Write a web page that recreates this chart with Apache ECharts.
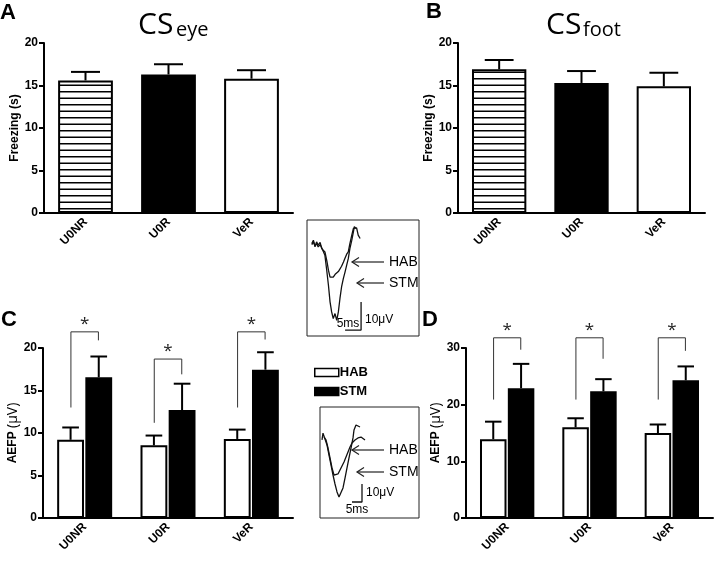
<!DOCTYPE html>
<html><head><meta charset="utf-8">
<script src="https://cdn.jsdelivr.net/npm/echarts@6/dist/echarts.min.js"></script>
<style>html,body{margin:0;padding:0;background:#fff}#c{width:720px;height:563px}</style>
</head><body><div id="c"></div>
<script>
// ---------- data ----------
const categories = ['U0NR', 'U0R', 'VeR'];
const freezeEyeMean = [15.6, 16.3, 15.8];
const freezeEyeSem = [1.0, 1.2, 1.0];
const freezeFootMean = [16.9, 15.3, 14.9];
const freezeFootSem = [1.1, 1.4, 1.6];
const aefpEyeHab = [9.2, 8.55, 9.3];
const aefpEyeHabSem = [1.45, 1.15, 1.1];
const aefpEyeStm = [16.55, 12.7, 17.45];
const aefpEyeStmSem = [2.45, 3.1, 2.05];
const aefpFootHab = [13.9, 16.0, 15.0];
const aefpFootHabSem = [3.1, 1.6, 1.5];
const aefpFootStm = [22.9, 22.35, 24.3];
const aefpFootStmSem = [4.3, 2.15, 2.45];
// significance brackets (left foot, top, right foot), axis units
const sigEyeLeft = [13.0, 11.2, 13.0];
const sigEyeTop = [21.9, 18.7, 21.9];
const sigEyeRight = [20.9, 16.9, 21.0];
const sigFootLeft = [20.9, 20.9, 20.9];
const sigFootTop = [31.8, 31.8, 31.8];
const sigFootRight = [29.7, 28.1, 29.5];
// example traces (ms, µV)
const in1HabMs = [1.5,2.0,2.5,3.0,3.5,4.1,4.6,5.1,5.6,6.2,6.7,7.2,7.7,8.2,8.8,9.3,9.8,10.3,10.8,11.4,11.9,12.4,12.9,13.4,14.0,14.5,15.0,15.5,16.0,16.6];
const in1HabUv = [0,1.2,-1.2,0.6,-0.6,0.4,-1.8,-1.2,-3.0,-6.2,-9.5,-12,-11.4,-12,-11,-11.4,-10,-9.5,-8.1,-6.6,-5.2,-3.8,-3.0,0,3.0,5.4,4.8,5.6,3.0,1.8];
const in1StmMs = [1.5,2,2.5,3,3.5,4.1,4.6,5.1,5.6,6.1,6.7,7.2,7.7,8.2,8.75,9.3,9.8,10.3,10.8,11.35,11.9,12.4,12.9,13.4,14,14.5,14.8,15.3];
const in1StmUv = [-0.4,0.6,-0.8,0,-1.2,-0.4,-1.5,-1.8,-4.2,-8.9,-14.9,-20.8,-24.4,-26.8,-25,-27.4,-24.4,-19.6,-15.5,-12.5,-10.1,-7.7,-5.4,-1.8,1.2,4.2,6.0,5.4];
const in2AMs = [1,1.5,2.5,3.5,4.5,5.5,6.5,7.5,8.5,9.5,10.5,11.5,12.5,13.5,14.5,15.5,16.5,17,18,19,20];
const in2AUv = [0.6,4.4,3.3,-2.2,-7.8,-13.3,-18.9,-23.9,-28.3,-31.1,-30,-26.1,-20.6,-15,-9.4,-3.9,1.7,6.1,8.9,10,7.8];
const in2BMs = [2,3,4,5,6,7,8,9,10,11,12,13,14,15,16,17.5,19,20.5,21.5,22.5];
const in2BUv = [2.2,0.6,-3.9,-9.4,-15,-18.9,-20,-18.3,-16.1,-13.9,-11.7,-8.9,-6.1,-3.3,-1.1,0.6,1.7,2.2,2.8,0.6];
const scale1Ms = [11.9, 16.9, 16.9];
const scale1Uv = [-30.9, -30.9, -20.9];
const scale2Ms = [16, 21, 21];
const scale2Uv = [-33.9, -33.9, -23.9];

// ---------- styling helpers ----------
const stripe = document.createElement('canvas');
stripe.width = 8; stripe.height = 13;
const sg = stripe.getContext('2d');
sg.fillStyle = '#fff'; sg.fillRect(0, 0, 8, 13);
sg.fillStyle = '#000'; sg.fillRect(0, 0, 8, 1.5); sg.fillRect(0, 6.5, 8, 1.5);
const stripeFill = { image: stripe, repeat: 'repeat' };
const singleFills = [stripeFill, '#000', '#fff'];
const FONT = "'Liberation Sans', Arial, sans-serif";
const NARROW = "'Liberation Sans Narrow', 'Liberation Sans', Arial, sans-serif";

function catAxis(gi) {
  return {
    type: 'category', gridIndex: gi, data: categories,
    axisLine: { lineStyle: { color: '#000', width: 2 } },
    axisTick: { alignWithLabel: true, length: 5, lineStyle: { color: '#000', width: 2 } },
    axisLabel: { rotate: 45, interval: 0, color: '#000', fontWeight: 'bold', fontSize: 12, fontFamily: FONT, margin: 7 }
  };
}
function valAxis(gi, max, interval, name, gap) {
  return {
    type: 'value', gridIndex: gi, min: 0, max: max, interval: interval,
    splitLine: { show: false },
    axisLine: { show: true, lineStyle: { color: '#000', width: 2 } },
    axisTick: { show: true, length: 5, lineStyle: { color: '#000', width: 2 } },
    axisLabel: { color: '#000', fontWeight: 'bold', fontSize: 12, fontFamily: FONT, margin: 6 },
    name: name, nameLocation: 'middle', nameRotate: 90, nameGap: gap,
    nameTextStyle: {
      color: '#000', fontWeight: 'bold', fontSize: 12, fontFamily: FONT,
      rich: {
        b: { fontWeight: 'bold', fontSize: 12, fontFamily: FONT, color: '#000' },
        n: { fontWeight: 'normal', fontSize: 14, fontFamily: "'Open Sans', sans-serif", color: '#000' }
      }
    }
  };
}
function hiddenAxis(gi, min, max) {
  return { type: 'value', gridIndex: gi, min: min, max: max, show: false, splitLine: { show: false } };
}
function errSeries(ai, means, sems, offFrac, capFrac) {
  return {
    type: 'custom', xAxisIndex: ai, yAxisIndex: ai, z: 3, silent: true,
    data: means.map((m, i) => [i, m, m + sems[i]]),
    renderItem: function (params, api) {
      const p0 = api.coord([api.value(0), api.value(1)]);
      const p1 = api.coord([api.value(0), api.value(2)]);
      const bw = api.size([1, 0])[0];
      const x = p0[0] + offFrac * bw;
      const c = capFrac * bw / 2;
      return { type: 'group', children: [
        { type: 'line', shape: { x1: x, y1: p0[1], x2: x, y2: p1[1] }, style: { stroke: '#000', lineWidth: 2 } },
        { type: 'line', shape: { x1: x - c, y1: p1[1], x2: x + c, y2: p1[1] }, style: { stroke: '#000', lineWidth: 2 } }
      ] };
    }
  };
}
function sigSeries(ai, lefts, tops, rights) {
  return {
    type: 'custom', xAxisIndex: ai, yAxisIndex: ai, z: 4, silent: true, clip: false,
    data: lefts.map((l, i) => [i, l, tops[i], rights[i]]),
    renderItem: function (params, api) {
      const i = api.value(0);
      const bw = api.size([1, 0])[0];
      const c = api.coord([i, api.value(2)]);
      const yl = api.coord([i, api.value(1)])[1];
      const yr = api.coord([i, api.value(3)])[1];
      const xl = c[0] - 0.165 * bw, xr = c[0] + 0.165 * bw;
      return { type: 'group', children: [
        { type: 'polyline', shape: { points: [[xl, yl], [xl, c[1]], [xr, c[1]], [xr, yr]] }, style: { stroke: '#333', lineWidth: 1, fill: null } },
        { type: 'text', style: { x: (xl + xr) / 2, y: c[1] - 8, text: '*', fill: '#222', font: "17px 'Open Sans', sans-serif", align: 'center', verticalAlign: 'middle' } }
      ] };
    }
  };
}
function pairBars(ai, hab, stm) {
  return [
    { name: 'HAB', type: 'bar', xAxisIndex: ai, yAxisIndex: ai, data: hab, barGap: '5%', barCategoryGap: '34%',
      itemStyle: { color: '#fff', borderColor: '#000', borderWidth: 2 } },
    { name: 'STM', type: 'bar', xAxisIndex: ai, yAxisIndex: ai, data: stm, barGap: '5%', barCategoryGap: '34%',
      itemStyle: { color: '#000', borderColor: '#000', borderWidth: 2 } }
  ];
}
function singleBars(ai, means) {
  return { type: 'bar', xAxisIndex: ai, yAxisIndex: ai, barCategoryGap: '34%',
    data: means.map((v, i) => ({ value: v, itemStyle: { color: singleFills[i], borderColor: '#000', borderWidth: 2 } })) };
}
function traceSeries(ai, ms, uv) {
  return { type: 'line', xAxisIndex: ai, yAxisIndex: ai, showSymbol: false, silent: true,
    data: ms.map((m, i) => [m, uv[i]]), lineStyle: { color: '#111', width: 1.3 } };
}
function arrow(x1, x2, y) {
  return { type: 'group', children: [
    { type: 'line', shape: { x1: x1, y1: y, x2: x2, y2: y }, style: { stroke: '#222', lineWidth: 1.2 } },
    { type: 'polyline', shape: { points: [[x1 + 7, y - 4.5], [x1, y], [x1 + 7, y + 4.5]] }, style: { stroke: '#222', lineWidth: 1.2, fill: null } }
  ] };
}
function txt(x, y, t, font, align, va) {
  return { type: 'text', style: { x: x, y: y, text: t, font: font, fill: '#000', align: align || 'left', verticalAlign: va || 'middle' } };
}

const chart = echarts.init(document.getElementById('c'), null, { renderer: 'canvas' });
chart.setOption({
  animation: false,
  backgroundColor: '#fff',
  grid: [
    { left: 44, top: 43, width: 249, height: 170 },
    { left: 458, top: 43, width: 247, height: 170 },
    { left: 43, top: 348, width: 250, height: 170 },
    { left: 466, top: 348, width: 247, height: 170 },
    { left: 307, top: 220, width: 112, height: 116, show: true, borderColor: '#222', borderWidth: 1, backgroundColor: '#fff' },
    { left: 320, top: 407, width: 99, height: 111, show: true, borderColor: '#222', borderWidth: 1, backgroundColor: '#fff' }
  ],
  xAxis: [catAxis(0), catAxis(1), catAxis(2), catAxis(3), hiddenAxis(4, 0, 35), hiddenAxis(5, 0, 49.5)],
  yAxis: [
    valAxis(0, 20, 5, 'Freezing (s)', 22),
    valAxis(1, 20, 5, 'Freezing (s)', 23),
    valAxis(2, 20, 5, '{b|AEFP} {n|(μV)}', 21),
    valAxis(3, 30, 10, '{b|AEFP} {n|(μV)}', 19),
    hiddenAxis(4, -33, 8.4),
    hiddenAxis(5, -42.8, 18.9)
  ],
  legend: {
    data: ['HAB', 'STM'], orient: 'vertical', left: 309, top: 361, itemWidth: 24, itemHeight: 8, itemGap: 6,
    icon: 'rect', selectedMode: false,
    itemStyle: { borderColor: '#000', borderWidth: 1.5 },
    textStyle: { color: '#000', fontWeight: 'bold', fontSize: 13, fontFamily: FONT, padding: [0, 0, 0, -4] }
  },
  series: [
    singleBars(0, freezeEyeMean), errSeries(0, freezeEyeMean, freezeEyeSem, 0, 0.35),
    singleBars(1, freezeFootMean), errSeries(1, freezeFootMean, freezeFootSem, 0, 0.35),
    ...pairBars(2, aefpEyeHab, aefpEyeStm),
    errSeries(2, aefpEyeHab, aefpEyeHabSem, -0.169, 0.2), errSeries(2, aefpEyeStm, aefpEyeStmSem, 0.169, 0.2),
    sigSeries(2, sigEyeLeft, sigEyeTop, sigEyeRight),
    ...pairBars(3, aefpFootHab, aefpFootStm),
    errSeries(3, aefpFootHab, aefpFootHabSem, -0.169, 0.2), errSeries(3, aefpFootStm, aefpFootStmSem, 0.169, 0.2),
    sigSeries(3, sigFootLeft, sigFootTop, sigFootRight),
    traceSeries(4, in1HabMs, in1HabUv), traceSeries(4, in1StmMs, in1StmUv),
    traceSeries(4, scale1Ms, scale1Uv),
    traceSeries(5, in2AMs, in2AUv), traceSeries(5, in2BMs, in2BUv),
    traceSeries(5, scale2Ms, scale2Uv)
  ],
  graphic: [
    txt(0, 13, 'A', "bold 22px " + FONT),
    txt(426, 12, 'B', "bold 22px " + FONT),
    txt(1, 320, 'C', "bold 22px " + FONT),
    txt(422, 320, 'D', "bold 22px " + FONT),
    txt(138, 25, 'CS', "30px 'Open Sans', sans-serif"),
    txt(176, 30, 'eye', "20px 'Open Sans', sans-serif"),
    txt(546, 25, 'CS', "30px 'Open Sans', sans-serif"),
    txt(583, 30, 'foot', "20px 'Open Sans', sans-serif"),
    arrow(352, 384, 262), txt(389, 262, 'HAB', "14px " + NARROW),
    arrow(357, 384, 283), txt(389, 283, 'STM', "14px " + NARROW),
    txt(348, 324, '5ms', "12px " + NARROW, 'center'),
    txt(365, 320, '10μV', "12px " + NARROW),
    arrow(352, 384, 450), txt(389, 450, 'HAB', "14px " + NARROW),
    arrow(357, 384, 472), txt(389, 472, 'STM', "14px " + NARROW),
    txt(357, 510, '5ms', "12px " + NARROW, 'center'),
    txt(366, 493, '10μV', "12px " + NARROW)
  ]
});
</script>
</body></html>
